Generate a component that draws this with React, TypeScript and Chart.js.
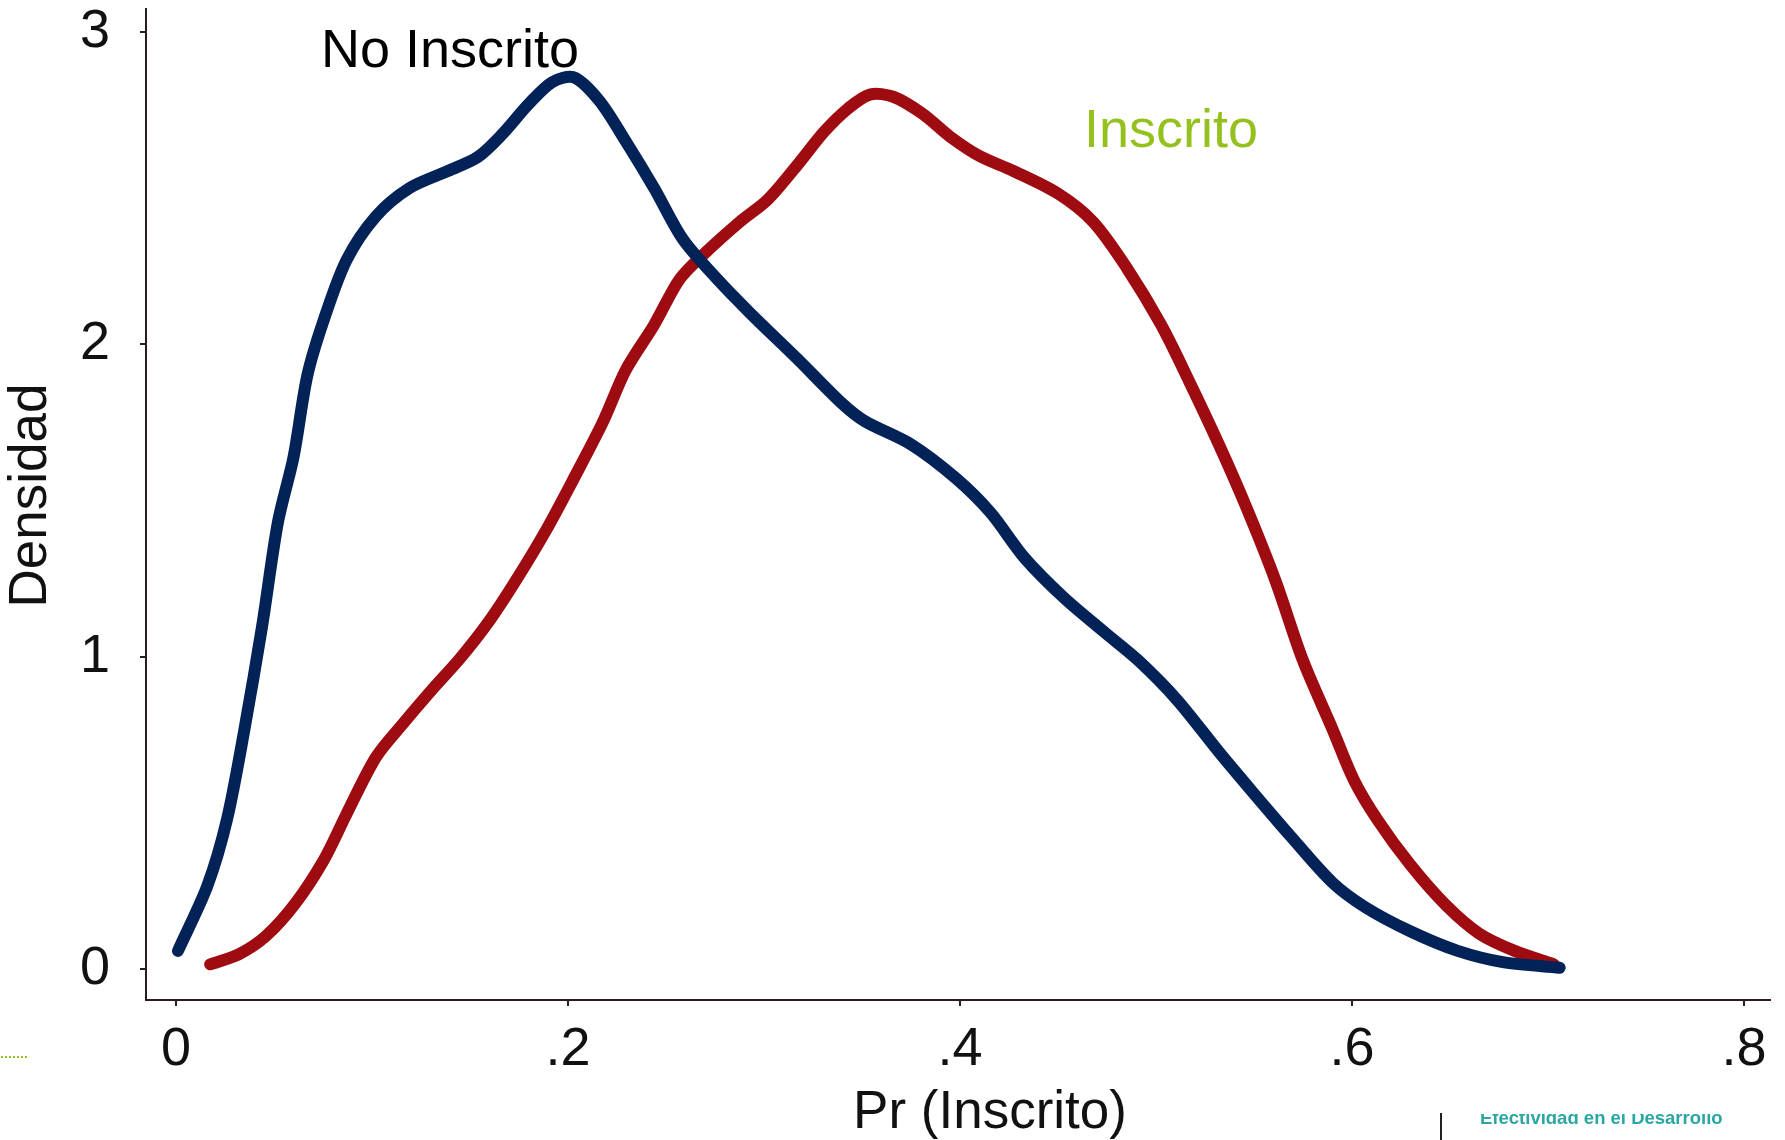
import React, { useEffect, useRef } from 'react';
import { Chart, registerables } from 'chart.js';

Chart.register(...registerables);

// "No Inscrito" density curve
const NO_INSCRITO_X = [0.001, 0.016, 0.026, 0.035, 0.044, 0.052, 0.060, 0.067, 0.0755, 0.087, 0.102, 0.119, 0.139, 0.154, 0.166, 0.180, 0.192, 0.203, 0.216, 0.2295, 0.244, 0.2586, 0.276, 0.293, 0.317, 0.340, 0.3515, 0.375, 0.398, 0.4155, 0.433, 0.453, 0.4736, 0.491, 0.511, 0.532, 0.549, 0.569, 0.590, 0.607, 0.630, 0.654, 0.677, 0.706];
const NO_INSCRITO_Y = [0.058, 0.266, 0.478, 0.77, 1.10, 1.43, 1.64, 1.90, 2.08, 2.27, 2.41, 2.50, 2.556, 2.60, 2.67, 2.77, 2.84, 2.855, 2.78, 2.65, 2.50, 2.337, 2.21, 2.10, 1.954, 1.81, 1.754, 1.68, 1.571, 1.462, 1.316, 1.189, 1.079, 0.988, 0.860, 0.696, 0.569, 0.423, 0.277, 0.197, 0.120, 0.058, 0.022, 0.004];

// "Inscrito" density curve
const INSCRITO_X = [0.0174, 0.032, 0.046, 0.061, 0.0755, 0.087, 0.102, 0.116, 0.131, 0.145, 0.160, 0.174, 0.189, 0.203, 0.218, 0.2295, 0.244, 0.257, 0.270, 0.2876, 0.302, 0.317, 0.331, 0.343, 0.354, 0.366, 0.381, 0.395, 0.410, 0.427, 0.450, 0.468, 0.485, 0.5026, 0.517, 0.532, 0.546, 0.561, 0.575, 0.590, 0.601, 0.613, 0.630, 0.648, 0.665, 0.683, 0.703];
const INSCRITO_Y = [0.015, 0.047, 0.106, 0.211, 0.35, 0.496, 0.678, 0.787, 0.897, 0.995, 1.116, 1.250, 1.407, 1.571, 1.754, 1.918, 2.063, 2.209, 2.293, 2.392, 2.464, 2.574, 2.683, 2.756, 2.80, 2.793, 2.738, 2.665, 2.603, 2.556, 2.483, 2.392, 2.246, 2.063, 1.881, 1.681, 1.480, 1.243, 0.988, 0.769, 0.605, 0.478, 0.332, 0.204, 0.113, 0.058, 0.015];

const X_TICKS = [0, 0.2, 0.4, 0.6, 0.8];
const X_TICK_LABELS = ['0', '.2', '.4', '.6', '.8'];
const Y_TICKS = [0, 1, 2, 3];
const Y_TICK_LABELS = ['0', '1', '2', '3'];

const SERIES_NAMES = ['No Inscrito', 'Inscrito'];
const X_TITLE = 'Pr (Inscrito)';
const Y_TITLE = 'Densidad';
const FOOTER_TEXT = 'Efectividad en el Desarrollo';

const FONT = '"Liberation Sans", Arial, Helvetica, sans-serif';
const BLUE = '#032257';
const RED = '#9e0b10';
const GREEN = '#95c11f';
const AXIS = '#2b1d1d';

const toPoints = (xs: number[], ys: number[]) => xs.map((x, i) => ({ x, y: ys[i] }));

// shift the axis titles slightly, as in the original figure
const titleShiftPlugin = {
  id: 'titleShift',
  afterLayout(chart: any) {
    const shifts: Record<string, [number, number]> = { x: [32, 0], y: [0, -9] };
    Object.keys(shifts).forEach((id) => {
      const s = chart.scales[id];
      if (!s || s.__shifted) return;
      const orig = s.drawTitle.bind(s);
      s.drawTitle = (...args: any[]) => {
        const ctx = chart.ctx as CanvasRenderingContext2D;
        ctx.save();
        ctx.translate(shifts[id][0], shifts[id][1]);
        orig(...args);
        ctx.restore();
      };
      s.__shifted = true;
    });
  },
};

const annotationPlugin = {
  id: 'annotations',
  afterDraw(chart: any) {
    const ctx = chart.ctx as CanvasRenderingContext2D;
    ctx.save();
    ctx.textBaseline = 'alphabetic';
    ctx.textAlign = 'left';
    ctx.font = `54px ${FONT}`;
    ctx.fillStyle = '#000000';
    ctx.fillText(SERIES_NAMES[0], 321, 67);
    ctx.fillStyle = GREEN;
    ctx.fillText(SERIES_NAMES[1], 1084, 147);

    // small dotted green mark at the left edge
    ctx.fillStyle = GREEN;
    for (let x = 1; x < 27; x += 4) {
      ctx.fillRect(x, 1056, 2, 2);
    }

    // vertical separator
    ctx.fillStyle = '#222222';
    ctx.fillRect(1440, 1113, 2, 27);

    // cut-off footer text
    ctx.beginPath();
    ctx.rect(1470, 1114, 300, 26);
    ctx.clip();
    ctx.fillStyle = '#2aa6a3';
    ctx.font = `bold 18.5px ${FONT}`;
    ctx.fillText(FOOTER_TEXT, 1480, 1124);
    ctx.restore();
  },
};

export default function App() {
  const canvasRef = useRef<HTMLCanvasElement | null>(null);

  useEffect(() => {
    const canvas = canvasRef.current;
    if (!canvas) return;
    const chart = new Chart(canvas, {
      type: 'scatter',
      data: {
        datasets: [
          {
            label: SERIES_NAMES[0],
            data: toPoints(NO_INSCRITO_X, NO_INSCRITO_Y),
            showLine: true,
            borderColor: BLUE,
            backgroundColor: BLUE,
            borderWidth: 12,
            pointRadius: 0,
            tension: 0.3,
            borderCapStyle: 'round',
            borderJoinStyle: 'round',
          },
          {
            label: SERIES_NAMES[1],
            data: toPoints(INSCRITO_X, INSCRITO_Y),
            showLine: true,
            borderColor: RED,
            backgroundColor: RED,
            borderWidth: 12,
            pointRadius: 0,
            tension: 0.3,
            borderCapStyle: 'round',
            borderJoinStyle: 'round',
          },
        ],
      },
      options: {
        responsive: false,
        animation: false,
        layout: { padding: { top: 9, right: 15, left: 0, bottom: 0 } },
        plugins: {
          legend: { display: false },
          tooltip: { enabled: false },
          title: { display: false },
        },
        scales: {
          x: {
            type: 'linear',
            min: -0.0153,
            max: 0.8133,
            afterBuildTicks: (scale: any) => {
              scale.ticks = X_TICKS.map((v) => ({ value: v }));
            },
            afterFit: (scale: any) => {
              scale.height = 140;
              scale.paddingLeft = 0;
              scale.paddingRight = 0;
            },
            ticks: {
              autoSkip: false,
              maxRotation: 0,
              minRotation: 0,
              padding: 12,
              color: '#111111',
              font: { family: FONT, size: 54, lineHeight: 1.2 },
              callback: (value: any) => {
                const i = X_TICKS.findIndex((t) => Math.abs(t - Number(value)) < 1e-9);
                return i >= 0 ? X_TICK_LABELS[i] : '';
              },
            },
            grid: {
              display: true,
              drawOnChartArea: false,
              drawTicks: true,
              tickLength: 6,
              color: AXIS,
              lineWidth: 2,
            },
            border: { display: true, color: AXIS, width: 2 },
            title: {
              display: true,
              text: X_TITLE,
              color: '#111111',
              font: { family: FONT, size: 53, lineHeight: 1.0 },
              padding: { top: 0, bottom: 0 },
            },
          },
          y: {
            type: 'linear',
            min: -0.0993,
            max: 3.074,
            afterBuildTicks: (scale: any) => {
              scale.ticks = Y_TICKS.map((v) => ({ value: v }));
            },
            afterFit: (scale: any) => {
              scale.width = 146;
              scale.paddingTop = 0;
              scale.paddingBottom = 0;
            },
            ticks: {
              autoSkip: false,
              padding: 30,
              color: '#111111',
              font: { family: FONT, size: 54, lineHeight: 1.2 },
              callback: (value: any) => {
                const i = Y_TICKS.findIndex((t) => Math.abs(t - Number(value)) < 1e-9);
                return i >= 0 ? Y_TICK_LABELS[i] : '';
              },
            },
            grid: {
              display: true,
              drawOnChartArea: false,
              drawTicks: true,
              tickLength: 6,
              color: AXIS,
              lineWidth: 2,
            },
            border: { display: true, color: AXIS, width: 2 },
            title: {
              display: true,
              text: Y_TITLE,
              color: '#111111',
              font: { family: FONT, size: 53, lineHeight: 1.2 },
              padding: { top: 0, bottom: 0 },
            },
          },
        },
      },
      plugins: [titleShiftPlugin, annotationPlugin],
    } as any);
    return () => chart.destroy();
  }, []);

  return (
    <div style={{ position: 'absolute', left: 0, top: 0, width: 1785, height: 1140, background: '#ffffff', overflow: 'hidden' }}>
      <canvas ref={canvasRef} width={1785} height={1140} style={{ display: 'block', width: 1785, height: 1140 }} />
    </div>
  );
}
